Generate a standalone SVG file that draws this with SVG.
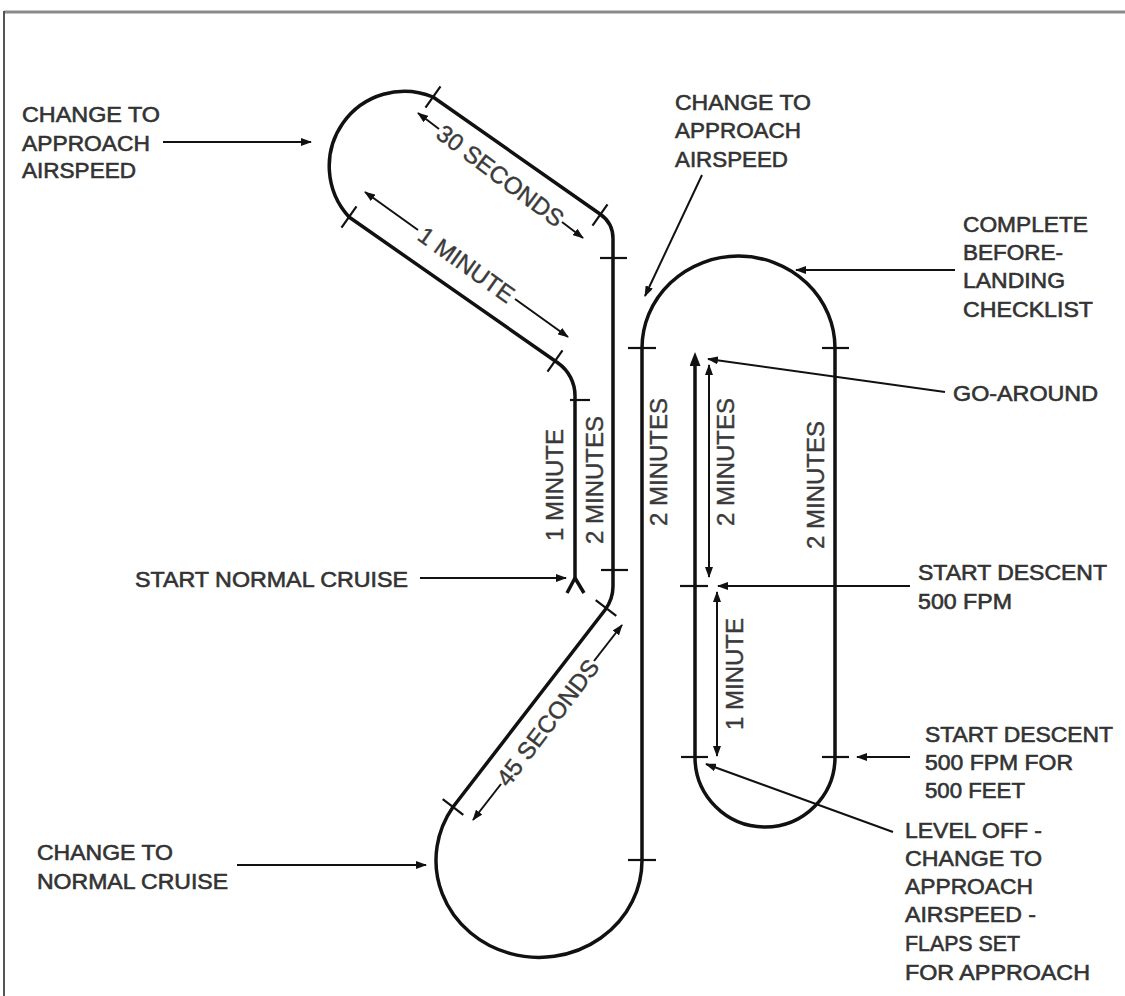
<svg xmlns="http://www.w3.org/2000/svg" width="1125" height="996" viewBox="0 0 1125 996">
<defs>
<marker id="ah" viewBox="0 0 11 8" refX="10" refY="4" markerWidth="11" markerHeight="8" markerUnits="userSpaceOnUse" orient="auto"><path d="M0,0 L11,4 L0,8 z" fill="#111"/></marker>
<marker id="ahBig" viewBox="0 0 14 11" refX="4" refY="5.5" markerWidth="14" markerHeight="11" markerUnits="userSpaceOnUse" orient="auto"><path d="M0,0 L14,5.5 L0,11 z" fill="#111"/></marker>
</defs>
<style>
.route{fill:none;stroke:#111;stroke-width:3.5;stroke-linejoin:round}
.tick{stroke:#111;stroke-width:2.2;fill:none}
.dim{stroke:#111;stroke-width:2;fill:none}
.call{stroke:#111;stroke-width:2;fill:none}
.lbl{font-family:"Liberation Sans",Arial,sans-serif;font-size:22px;fill:#333;stroke:#333;stroke-width:0.6}
.dl{font-family:"Liberation Sans",Arial,sans-serif;font-size:24px;fill:#3a3a3a;stroke:#3a3a3a;stroke-width:0.4;text-anchor:middle}
</style>
<rect width="1125" height="996" fill="#fff"/>
<g id="frame">
<line x1="4" y1="12" x2="1125" y2="12" stroke="#8a8a8a" stroke-width="3"/>
<line x1="4" y1="11" x2="4" y2="996" stroke="#555" stroke-width="2"/>
</g>
<g id="route">
<path class="route" d="M575,578 L575,396 A40 40 0 0 0 558,363 L349,217 A75 75 0 0 1 433,97 L600,214 A30 30 0 0 1 613,239 L613,585 A40 40 0 0 1 605,610 L453,807 A103 97 0 1 0 642,860 L642,348 A96.5 92 0 0 1 835,348 L835,757 A70 70 0 0 1 695,757 L695,362" marker-end="url(#ahBig)"/>
<path class="route" d="M567,593 L575,578 L584,593" stroke-width="3"/>
</g>
<g id="ticks">
<line class="tick" x1="440.5" y1="86.4" x2="425.5" y2="107.6"/>
<line class="tick" x1="607.5" y1="204.4" x2="592.5" y2="225.6"/>
<line class="tick" x1="356.5" y1="206.4" x2="341.5" y2="227.6"/>
<line class="tick" x1="562.5" y1="350.4" x2="547.5" y2="371.6"/>
<line class="tick" x1="570" y1="400" x2="590" y2="400"/>
<line class="tick" x1="600" y1="258" x2="627" y2="258"/>
<line class="tick" x1="601" y1="570" x2="628" y2="570"/>
<line class="tick" x1="628" y1="348" x2="656" y2="348"/>
<line class="tick" x1="822" y1="348" x2="849" y2="348"/>
<line class="tick" x1="822" y1="757" x2="849" y2="757"/>
<line class="tick" x1="681" y1="757" x2="708" y2="757"/>
<line class="tick" x1="680" y1="586" x2="708" y2="586"/>
<line class="tick" x1="628" y1="860" x2="656" y2="860"/>
<line class="tick" x1="616.3" y1="615.9" x2="595.7" y2="600.1"/>
<line class="tick" x1="463.3" y1="814.9" x2="442.7" y2="799.1"/>
</g>
<g id="dimensions">
<line class="dim" x1="439" y1="129" x2="418" y2="113" marker-end="url(#ah)"/>
<line class="dim" x1="562" y1="222" x2="583" y2="238" marker-end="url(#ah)"/>
<text class="dl" transform="translate(500.5,175.5) rotate(37)" dy="0.36em" font-size="23">30 SECONDS</text>
<line class="dim" x1="418" y1="230" x2="365" y2="192" marker-end="url(#ah)"/>
<line class="dim" x1="515" y1="299" x2="568" y2="337" marker-end="url(#ah)"/>
<text class="dl" transform="translate(466.5,264.5) rotate(35.5)" dy="0.36em" font-size="23">1 MINUTE</text>
<line class="dim" x1="501" y1="784" x2="473" y2="820" marker-end="url(#ah)"/>
<line class="dim" x1="594" y1="661" x2="622" y2="625" marker-end="url(#ah)"/>
<text class="dl" transform="translate(547.5,722.5) rotate(-52.6)" dy="0.36em" font-size="23">45 SECONDS</text>
<text class="dl" transform="translate(554,485) rotate(-90)" dy="0.36em">1 MINUTE</text>
<text class="dl" transform="translate(594,480) rotate(-90)" dy="0.36em">2 MINUTES</text>
<text class="dl" transform="translate(658,462) rotate(-90)" dy="0.36em">2 MINUTES</text>
<line class="dim" x1="709" y1="470" x2="709" y2="365" marker-end="url(#ah)"/>
<line class="dim" x1="709" y1="470" x2="709" y2="577" marker-end="url(#ah)"/>
<text class="dl" transform="translate(725,462) rotate(-90)" dy="0.36em">2 MINUTES</text>
<line class="dim" x1="717" y1="675" x2="717" y2="592" marker-end="url(#ah)"/>
<line class="dim" x1="717" y1="675" x2="717" y2="756" marker-end="url(#ah)"/>
<text class="dl" transform="translate(734,674) rotate(-90)" dy="0.36em">1 MINUTE</text>
<text class="dl" transform="translate(815,485) rotate(-90)" dy="0.36em">2 MINUTES</text>
</g>
<g id="connectors">
<line class="call" x1="163" y1="142" x2="311" y2="142" marker-end="url(#ah)"/>
<line class="call" x1="702" y1="175" x2="645" y2="296" marker-end="url(#ah)"/>
<line class="call" x1="955" y1="270" x2="796" y2="270" marker-end="url(#ah)"/>
<line class="call" x1="945" y1="392" x2="708" y2="359" marker-end="url(#ah)"/>
<line class="call" x1="910" y1="586" x2="718" y2="586" marker-end="url(#ah)"/>
<line class="call" x1="910" y1="757" x2="857" y2="757" marker-end="url(#ah)"/>
<line class="call" x1="893" y1="832" x2="706" y2="764" marker-end="url(#ah)"/>
<line class="call" x1="420" y1="578" x2="566" y2="578" marker-end="url(#ah)"/>
<line class="call" x1="237" y1="865" x2="426" y2="865" marker-end="url(#ah)"/>
</g>
<g id="label-approach-left">
<text class="lbl" x="22" y="122" textLength="138" lengthAdjust="spacingAndGlyphs">CHANGE TO</text>
<text class="lbl" x="22" y="151" textLength="128" lengthAdjust="spacingAndGlyphs">APPROACH</text>
<text class="lbl" x="22" y="178" textLength="114" lengthAdjust="spacingAndGlyphs">AIRSPEED</text>
</g>
<g id="label-approach-top">
<text class="lbl" x="675" y="110" textLength="136" lengthAdjust="spacingAndGlyphs">CHANGE TO</text>
<text class="lbl" x="675" y="138" textLength="126" lengthAdjust="spacingAndGlyphs">APPROACH</text>
<text class="lbl" x="675" y="167" textLength="113" lengthAdjust="spacingAndGlyphs">AIRSPEED</text>
</g>
<g id="label-checklist">
<text class="lbl" x="963" y="232" textLength="125" lengthAdjust="spacingAndGlyphs">COMPLETE</text>
<text class="lbl" x="963" y="260" textLength="100" lengthAdjust="spacingAndGlyphs">BEFORE-</text>
<text class="lbl" x="963" y="288" textLength="102" lengthAdjust="spacingAndGlyphs">LANDING</text>
<text class="lbl" x="963" y="317" textLength="130" lengthAdjust="spacingAndGlyphs">CHECKLIST</text>
</g>
<g id="label-goaround">
<text class="lbl" x="953" y="401" textLength="145" lengthAdjust="spacingAndGlyphs">GO-AROUND</text>
</g>
<g id="label-descent1">
<text class="lbl" x="918" y="580" textLength="189" lengthAdjust="spacingAndGlyphs">START DESCENT</text>
<text class="lbl" x="918" y="609" textLength="94" lengthAdjust="spacingAndGlyphs">500 FPM</text>
</g>
<g id="label-descent2">
<text class="lbl" x="925" y="742" textLength="188" lengthAdjust="spacingAndGlyphs">START DESCENT</text>
<text class="lbl" x="925" y="770" textLength="148" lengthAdjust="spacingAndGlyphs">500 FPM FOR</text>
<text class="lbl" x="925" y="798" textLength="100" lengthAdjust="spacingAndGlyphs">500 FEET</text>
</g>
<g id="label-leveloff">
<text class="lbl" x="905" y="838" textLength="137" lengthAdjust="spacingAndGlyphs">LEVEL OFF -</text>
<text class="lbl" x="905" y="866" textLength="137" lengthAdjust="spacingAndGlyphs">CHANGE TO</text>
<text class="lbl" x="905" y="894" textLength="128" lengthAdjust="spacingAndGlyphs">APPROACH</text>
<text class="lbl" x="905" y="922" textLength="131" lengthAdjust="spacingAndGlyphs">AIRSPEED -</text>
<text class="lbl" x="905" y="951" textLength="115" lengthAdjust="spacingAndGlyphs">FLAPS SET</text>
<text class="lbl" x="905" y="980" textLength="185" lengthAdjust="spacingAndGlyphs">FOR APPROACH</text>
</g>
<g id="label-normal-cruise-start">
<text class="lbl" x="135" y="587" textLength="273" lengthAdjust="spacingAndGlyphs">START NORMAL CRUISE</text>
</g>
<g id="label-normal-cruise-change">
<text class="lbl" x="37" y="860" textLength="136" lengthAdjust="spacingAndGlyphs">CHANGE TO</text>
<text class="lbl" x="37" y="889" textLength="191" lengthAdjust="spacingAndGlyphs">NORMAL CRUISE</text>
</g>
</svg>
